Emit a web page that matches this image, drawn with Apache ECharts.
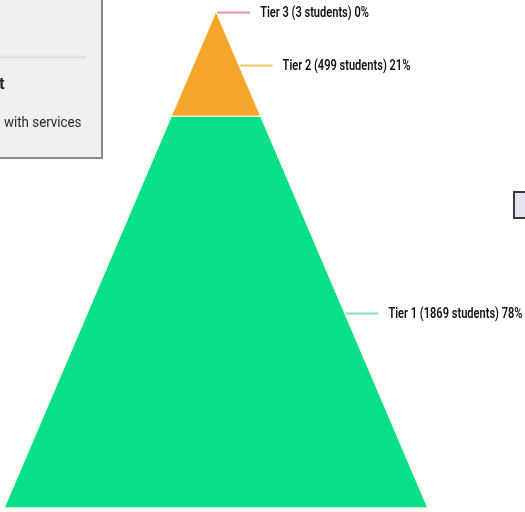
<!DOCTYPE html>
<html>
<head>
<meta charset="utf-8">
<script src="https://cdn.jsdelivr.net/npm/echarts@6/dist/echarts.min.js"></script>
<style>html,body{margin:0;padding:0;background:#fff}#chart{width:525px;height:512px}</style>
</head>
<body>
<div id="chart"></div>
<script>
// Tiers from bottom of the pyramid to the top
var tierNames = ['Tier 1', 'Tier 2', 'Tier 3'];
var tierStudents = [1869, 499, 3];
var tierPercents = [78, 21, 0];
var tierColors = ['#07df8b', '#f4a52a', '#e57a8a'];
var leaderColors = ['#7fe3bd', '#f6c46e', '#e8939f'];

var total = tierStudents.reduce(function (a, b) { return a + b; }, 0);
var data = [];
var acc = 0;
for (var i = 0; i < tierStudents.length; i++) {
  data.push([acc, acc + tierStudents[i], i]);
  acc += tierStudents[i];
}

var chart = echarts.init(document.getElementById('chart'), null, { renderer: 'canvas' });

chart.setOption({
  animation: false,
  grid: { left: 4, right: 97, top: 11, bottom: 4 },
  xAxis: { type: 'value', min: -1, max: 1, show: false },
  yAxis: { type: 'value', min: 0, max: total, show: false },
  series: [{
    type: 'custom',
    clip: false,
    data: data,
    renderItem: function (params, api) {
      var v0 = api.value(0), v1 = api.value(1), idx = api.value(2);
      var hw0 = (total - v0) / total, hw1 = (total - v1) / total;
      var p1 = api.coord([-hw0, v0]), p2 = api.coord([hw0, v0]);
      var p3 = api.coord([hw1, v1]), p4 = api.coord([-hw1, v1]);
      var vm = (v0 + v1) / 2, hwm = (total - vm) / total;
      var edge = api.coord([hwm, vm]);
      var ly = Math.round(edge[1]) + 1.5;
      var lx0 = edge[0] + 1, lx1 = edge[0] + 34;
      return {
        type: 'group',
        children: [
          {
            type: 'polygon',
            shape: { points: [p1, p2, p3, p4] },
            style: { fill: tierColors[idx], stroke: '#fbfbe8', lineWidth: 1.5 }
          },
          {
            type: 'line',
            shape: { x1: lx0, y1: ly, x2: lx1, y2: ly },
            style: { stroke: leaderColors[idx], lineWidth: 2 }
          },
          {
            type: 'text',
            x: lx1 + 10,
            y: ly + 1,
            scaleX: 0.79,
            style: {
              text: tierNames[idx] + ' (' + tierStudents[idx] + ' students) ' + tierPercents[idx] + '%',
              fill: '#111',
              font: '600 14px Roboto, sans-serif',
              textVerticalAlign: 'middle',
              textAlign: 'left'
            }
          }
        ]
      };
    }
  }],
  graphic: [
    {
      type: 'rect', z: 10,
      shape: { x: -2, y: -2, width: 104, height: 160 },
      style: { fill: '#efefef', stroke: '#8a8a8a', lineWidth: 2 }
    },
    {
      type: 'line', z: 11,
      shape: { x1: 0, y1: 57, x2: 86, y2: 57 },
      style: { stroke: '#e2e2e2', lineWidth: 3 }
    },
    {
      type: 'text', z: 11, x: -1, y: 85,
      style: { text: 't', fill: '#222', font: '600 17px Roboto, sans-serif', textVerticalAlign: 'middle' }
    },
    {
      type: 'text', z: 11, x: 4, y: 123, scaleX: 0.86,
      style: { text: 'with services', fill: '#2b2b2b', font: '15.5px Roboto, sans-serif', textVerticalAlign: 'middle' }
    },
    {
      type: 'rect', z: 10,
      shape: { x: 514, y: 192, width: 20, height: 26 },
      style: { fill: '#e3e3f1', stroke: '#3a3a3a', lineWidth: 2 }
    }
  ]
});
</script>
</body>
</html>
